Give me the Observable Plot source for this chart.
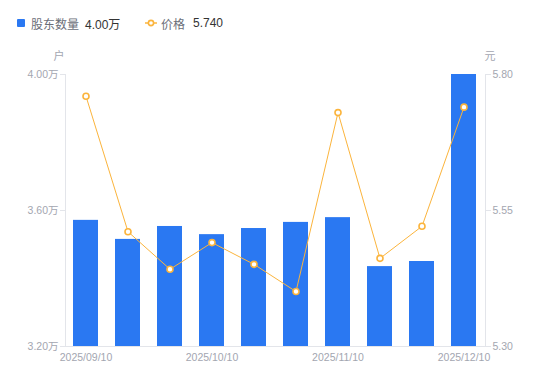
<!DOCTYPE html>
<html><head><meta charset="utf-8">
<script src="https://cdn.jsdelivr.net/npm/d3@7"></script>
<script src="https://cdn.jsdelivr.net/npm/@observablehq/plot@0.6"></script>
<style>
html,body{margin:0;padding:0;background:#fff;}
body{width:550px;height:381px;overflow:hidden;font-family:"Liberation Sans","Noto Sans CJK SC",sans-serif;}
#legend{position:relative;height:45px;font-size:12px;}
.item{position:absolute;top:16px;display:flex;align-items:center;height:14px;white-space:nowrap;}
.lbl{color:#6b6e78;}
.val{color:#333;margin-left:6px;}
</style></head>
<body>
<div id="legend">
  <div class="item" style="left:17px"><span style="display:inline-block;width:8px;height:8px;background:#2a78f2;border-radius:1px;margin-right:6px"></span><span class="lbl">股东数量</span><span class="val">4.00万</span></div>
  <div class="item" style="left:145px"><svg width="12" height="10" style="margin-right:4px"><line x1="0" y1="5" x2="12" y2="5" stroke="#fbb43c" stroke-width="1.5"/><circle cx="6" cy="5" r="2.6" fill="#fff" stroke="#fbb43c" stroke-width="1.6"/></svg><span class="lbl">价格</span><span class="val" style="margin-left:8px">5.740</span></div>
</div>
<div id="chart"></div>
<script>
const dates = ["2025/09/10","2025/09/19","2025/09/30","2025/10/10","2025/10/20","2025/10/31","2025/11/10","2025/11/20","2025/11/28","2025/12/10"];
const holders = [3.571, 3.515, 3.553, 3.529, 3.547, 3.565, 3.579, 3.435, 3.450, 4.000];
const prices = [5.760, 5.511, 5.442, 5.491, 5.451, 5.401, 5.730, 5.462, 5.521, 5.740];
const xTickLabels = ["2025/09/10","2025/10/10","2025/11/10","2025/12/10"];
const leftTicks = [3.20, 3.60, 4.00];
const rightTicks = [5.30, 5.55, 5.80];

const hDomain = [3.2, 4.0];
const pDomain = [5.3, 5.8];
const toY = p => hDomain[0] + (p - pDomain[0]) / (pDomain[1] - pDomain[0]) * (hDomain[1] - hDomain[0]);

const data = dates.map((d, i) => ({date: d, holders: holders[i], price: prices[i]}));
const axisColor = "#e3e5ea";
const textColor = "#a3a6b0";
const blue = "#2a78f2";
const orange = "#fbb43c";

const chart = Plot.plot({
  width: 550, height: 336,
  marginTop: 29, marginBottom: 35, marginLeft: 65, marginRight: 65,
  style: {fontFamily: "'Liberation Sans','Noto Sans CJK SC',sans-serif", fontSize: "10.5px", background: "#fff"},
  x: {type: "band", domain: dates, paddingInner: 0.4, paddingOuter: 0.2, axis: null},
  y: {domain: hDomain, axis: null},
  marks: [
    Plot.frame({anchor: "left", stroke: axisColor}),
    Plot.frame({anchor: "right", stroke: axisColor}),
    Plot.frame({anchor: "bottom", stroke: axisColor}),
    Plot.barY(data, {x: "date", y1: hDomain[0], y2: "holders", fill: blue}),
    Plot.line(data, {x: "date", y: d => toY(d.price), stroke: orange, strokeWidth: 1}),
    Plot.dot(data, {x: "date", y: d => toY(d.price), r: 3, fill: "#fff", stroke: orange, strokeWidth: 1.6}),
    Plot.axisY({anchor: "left", ticks: leftTicks, tickFormat: d => d.toFixed(2) + "万", tickSize: 5, tickPadding: 2, stroke: axisColor, fill: textColor, label: null}),
    Plot.axisY({anchor: "right", ticks: rightTicks.map(toY), tickFormat: (d, i) => rightTicks[i].toFixed(2), tickSize: 5, tickPadding: 2, stroke: axisColor, fill: textColor, label: null}),
    Plot.axisX({anchor: "bottom", tickSize: 0, tickPadding: 7, tickFormat: d => xTickLabels.includes(d) ? d : "", fill: textColor, fontSize: 10.5, label: null}),
    Plot.text(["户"], {frameAnchor: "top-left", dx: -12, dy: -22, fill: textColor, fontSize: 11}),
    Plot.text(["元"], {frameAnchor: "top-right", dx: 10, dy: -22, fill: textColor, fontSize: 11})
  ]
});
document.getElementById("chart").appendChild(chart);
</script>
</body></html>
